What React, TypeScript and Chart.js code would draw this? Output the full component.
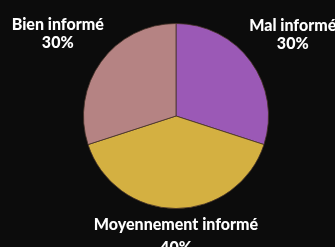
import React, { useEffect, useRef } from "react";
import { Chart, registerables } from "chart.js";

Chart.register(...registerables);

const categories = ["Mal informé", "Moyennement informé", "Bien informé"];
const values = [30, 40, 30];
const percentLabels = ["30%", "40%", "30%"];
const sliceColors = ["#9b59b6", "#d4b041", "#b58383"];
// distance of the label's first baseline from the pie centre, as a share of the radius
const labelDistance = [1.56, 1.23, 1.58];
const lineGap = [18, 23, 18];

const outerLabels = {
  id: "outerLabels",
  afterDatasetsDraw(chart: any) {
    const ctx = chart.ctx;
    const meta = chart.getDatasetMeta(0);
    ctx.save();
    ctx.fillStyle = "#ffffff";
    ctx.textAlign = "center";
    ctx.textBaseline = "alphabetic";
    ctx.font = "900 16px Lato";
    meta.data.forEach((arc: any, i: number) => {
      const { x, y, startAngle, endAngle, outerRadius } = arc.getProps(
        ["x", "y", "startAngle", "endAngle", "outerRadius"],
        true
      );
      const mid = (startAngle + endAngle) / 2;
      const d = outerRadius * labelDistance[i];
      const lx = x + Math.cos(mid) * d;
      const ly = y + Math.sin(mid) * d;
      ctx.fillText(categories[i], lx, ly);
      ctx.fillText(percentLabels[i], lx, ly + lineGap[i]);
    });
    ctx.restore();
  },
};

export default function App() {
  const ref = useRef<HTMLCanvasElement>(null);
  useEffect(() => {
    if (!ref.current) return;
    const chart = new Chart(ref.current, {
      type: "pie",
      data: {
        labels: categories,
        datasets: [
          {
            data: values,
            backgroundColor: sliceColors,
            borderColor: "rgba(70,50,40,0.8)",
            borderWidth: 1,
          },
        ],
      },
      options: {
        animation: false,
        responsive: true,
        maintainAspectRatio: false,
        layout: { padding: { top: 23, bottom: 38, left: 17, right: 0 } },
        plugins: {
          legend: { display: false },
          tooltip: { enabled: false },
        },
      },
      plugins: [outerLabels],
    });
    return () => chart.destroy();
  }, []);
  return (
    <div
      style={{
        position: "fixed",
        left: 0,
        top: 0,
        width: 335,
        height: 247,
        background: "#0c0c0c",
      }}
    >
      <canvas ref={ref} />
    </div>
  );
}
